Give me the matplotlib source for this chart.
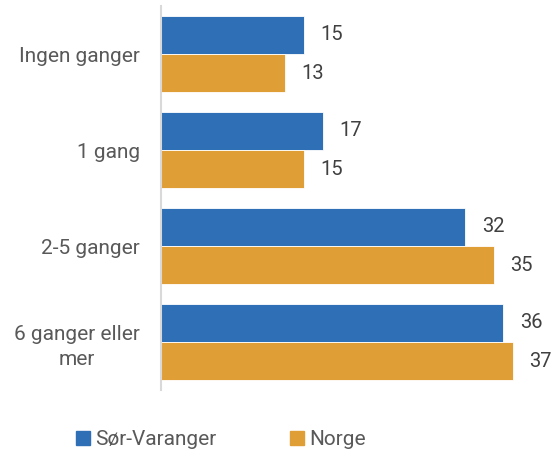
import numpy as np
import matplotlib
matplotlib.use("Agg")
import matplotlib.pyplot as plt
from matplotlib.patches import Patch

categories = ["Ingen ganger", "1 gang", "2-5 ganger", "6 ganger eller\nmer"]
sor_varanger = [15, 17, 32, 36]
norge = [13, 15, 35, 37]
series_names = ["Sør-Varanger", "Norge"]

blue = "#2E6FB5"
orange = "#E09E36"

plt.rcParams['font.family'] = ['Roboto', 'DejaVu Sans']

fig = plt.figure(figsize=(5.53, 4.49), dpi=100)
ax = fig.add_axes([161 / 553, 1 - 390 / 449, 390 / 553, 384 / 449])

y = np.arange(len(categories))
h = 0.4
b1 = ax.barh(y - h / 2, sor_varanger, height=h, color=blue, edgecolor="white", linewidth=0.6)
b2 = ax.barh(y + h / 2, norge, height=h, color=orange, edgecolor="white", linewidth=0.6)

for bars in (b1, b2):
    ax.bar_label(bars, padding=12, fontsize=14.5, color="#404040")

ax.set_xlim(0, 41)
ax.set_ylim(len(categories) - 0.5, -0.5)
ax.set_yticks(y)
ax.set_yticklabels(categories, fontsize=15, color="#595959", multialignment="center",
                   linespacing=1.4)
ax.tick_params(axis="y", length=0, pad=15)
ax.set_xticks([])
for s in ["top", "right", "bottom"]:
    ax.spines[s].set_visible(False)
ax.spines["left"].set_color("#D9D9D9")
ax.spines["left"].set_linewidth(1.5)

handles = [Patch(color=blue), Patch(color=orange)]
fig.legend(handles, series_names, loc="lower left", bbox_to_anchor=(57 / 553, -19 / 449),
           ncol=2, frameon=False, fontsize=15, labelcolor="#595959",
           handlelength=0.7, handleheight=0.7, handletextpad=0.25, columnspacing=3.5)

fig.savefig("out.png", dpi=100)
